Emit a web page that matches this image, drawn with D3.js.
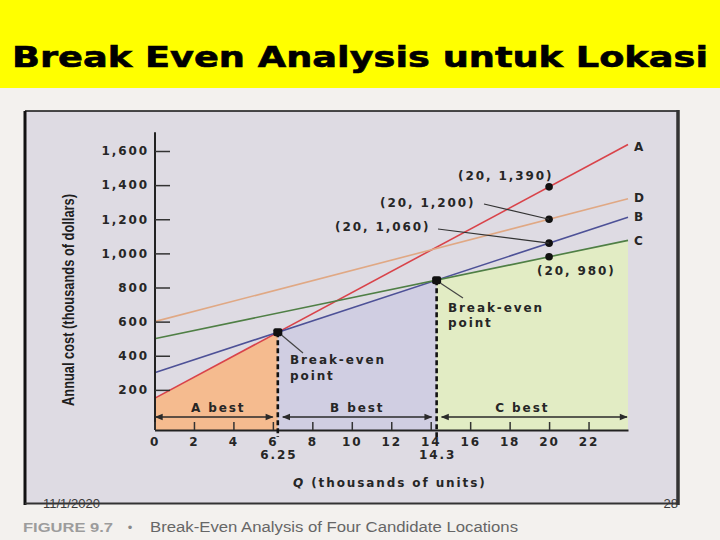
<!DOCTYPE html>
<html>
<head>
<meta charset="utf-8">
<script src="https://cdn.jsdelivr.net/npm/d3@7"></script>
<style>
  html, body { margin: 0; padding: 0; background: #f3f1ee; }
  svg { display: block; }
  .lbl { font-family: "DejaVu Sans", sans-serif; font-weight: bold; font-size: 12px; fill: #262626; letter-spacing: 1.9px; }
</style>
</head>
<body>
<svg id="chart" width="720" height="540"></svg>
<script>
// ---- data ----
const locations = ["A", "B", "C", "D"];
const costAtQ0 = [150, 300, 500, 600];        // annual cost at Q = 0 (thousands $)
const costAtQ24 = [1638, 1212, 1076, 1320];   // annual cost at Q = 24
const lineQ = [0, 24];
const pointQ = 20;
const costAtQ20 = [1390, 1060, 980, 1200];
const pointLabels = ["(20, 1,390)", "(20, 1,060)", "(20, 980)", "(20, 1,200)"];
const breakEvenQ = [6.25, 14.3];
const breakEvenCost = [537.5, 843];
const breakEvenLabels = ["6.25", "14.3"];
const bestLabels = ["A best", "B best", "C best"];
const yTicks = [200, 400, 600, 800, 1000, 1200, 1400, 1600];
const xTicks = [0, 2, 4, 6, 8, 10, 12, 14, 16, 18, 20, 22];

const lineColors = { A: "#d9434a", B: "#4d5197", C: "#4f7f45", D: "#e0a884" };

const svg = d3.select("#chart");

// background pieces
svg.append("rect").attr("x", 0).attr("y", 0).attr("width", 720).attr("height", 540).attr("fill", "#f3f1ee");
svg.append("rect").attr("x", 0).attr("y", 0).attr("width", 720).attr("height", 88).attr("fill", "#ffff00");
svg.append("text")
  .attr("x", 12).attr("y", 67)
  .attr("textLength", 696).attr("lengthAdjust", "spacingAndGlyphs")
  .style("font-family", "'DejaVu Sans', sans-serif").style("font-weight", "bold").style("font-size", "28px")
  .attr("fill", "#000").attr("stroke", "#000").attr("stroke-width", 0.6)
  .text("Break Even Analysis untuk Lokasi");

// frame
svg.append("rect").attr("x", 25).attr("y", 111).attr("width", 653).attr("height", 393).attr("fill", "#dedbe3");

const x = d3.scaleLinear().domain([0, 24]).range([154.5, 628]);
const y = d3.scaleLinear().domain([0, 1600]).range([424, 151]);
const axisBaseY = 430;

// shaded "best" regions
const area = d3.area().x(d => x(d[0])).y0(axisBaseY).y1(d => y(d[1]));
const regions = [
  { pts: [[0, costAtQ0[0]], [breakEvenQ[0], breakEvenCost[0]]], fill: "#f5bb8f" },
  { pts: [[breakEvenQ[0], breakEvenCost[0]], [breakEvenQ[1], breakEvenCost[1]]], fill: "#d0cee2" },
  { pts: [[breakEvenQ[1], breakEvenCost[1]], [24, costAtQ24[2]]], fill: "#e2ecc4" }
];
svg.selectAll("path.region").data(regions).join("path")
  .attr("class", "region").attr("d", d => area(d.pts)).attr("fill", d => d.fill);

// cost lines
const line = d3.line().x(d => x(d[0])).y(d => y(d[1]));
locations.forEach((loc, i) => {
  svg.append("path")
    .attr("d", line([[lineQ[0], costAtQ0[i]], [lineQ[1], costAtQ24[i]]]))
    .attr("fill", "none").attr("stroke", lineColors[loc]).attr("stroke-width", 1.6);
  svg.append("text").attr("class", "lbl")
    .attr("x", x(24) + 6).attr("y", y(costAtQ24[i]) + (loc === "A" ? 2 : loc === "D" ? -1 : 0))
    .attr("dy", "0.35em").text(loc);
});

// y axis
svg.append("line").attr("x1", 155).attr("x2", 155).attr("y1", axisBaseY).attr("y2", y(1710))
  .attr("stroke", "#222").attr("stroke-width", 2);
const yAxis = d3.axisLeft(y).tickValues(yTicks).tickFormat(d3.format(",")).tickSizeInner(-15).tickSizeOuter(0).tickPadding(6);
const gy = svg.append("g").attr("transform", "translate(155,0)").call(yAxis);
gy.select(".domain").remove();
gy.selectAll(".tick line").attr("stroke", "#333").attr("stroke-width", 1.5);
gy.selectAll(".tick text").attr("class", "lbl").attr("fill", "#2a2a2a");

// x axis
const xAxis = d3.axisBottom(x).tickValues(xTicks).tickSizeInner(-8).tickSizeOuter(0).tickPadding(7);
const gx = svg.append("g").attr("transform", `translate(0,${axisBaseY})`).call(xAxis);
gx.select(".domain").attr("stroke", "#222").attr("stroke-width", 2);
gx.selectAll(".tick line").attr("stroke", "#333").attr("stroke-width", 1.5);
gx.selectAll(".tick text").attr("class", "lbl").attr("fill", "#2a2a2a");

// break-even extra labels
breakEvenQ.forEach((q, i) => {
  svg.append("text").attr("class", "lbl").attr("text-anchor", "middle")
    .attr("x", x(q) + 1).attr("y", 459).text(breakEvenLabels[i]);
});

// dashed verticals at break-even points
breakEvenQ.forEach((q, i) => {
  svg.append("line").attr("x1", x(q)).attr("x2", x(q)).attr("y1", y(breakEvenCost[i])).attr("y2", 437)
    .attr("stroke", "#111").attr("stroke-width", 2.6).attr("stroke-dasharray", "5,3");
});

// double arrows for best ranges
const defs = svg.append("defs");
defs.append("marker").attr("id", "arr").attr("viewBox", "0 0 10 10").attr("refX", 9).attr("refY", 5)
  .attr("markerWidth", 7).attr("markerHeight", 5).attr("orient", "auto-start-reverse")
  .append("path").attr("d", "M0,1 L10,5 L0,9 z").attr("fill", "#2a2a2a");
const arrowY = 417;
const ranges = [[0, breakEvenQ[0]], [breakEvenQ[0], breakEvenQ[1]], [breakEvenQ[1], 24]];
ranges.forEach((r, i) => {
  const x1 = x(r[0]) + (i === 0 ? 1 : 5), x2 = x(r[1]) - (i === 2 ? 1 : 5);
  svg.append("line").attr("x1", x1).attr("x2", x2).attr("y1", arrowY).attr("y2", arrowY)
    .attr("stroke", "#2a2a2a").attr("stroke-width", 1.6)
    .attr("marker-start", "url(#arr)").attr("marker-end", "url(#arr)");
  svg.append("text").attr("class", "lbl").attr("text-anchor", "middle")
    .attr("x", (x(r[0]) + x(r[1])) / 2 + (i === 0 ? 2 : i === 2 ? -10 : 0)).attr("y", 412)
    .text(bestLabels[i]);
});

// points at Q = 20
costAtQ20.forEach(c => {
  svg.append("circle").attr("cx", x(pointQ)).attr("cy", y(c)).attr("r", 3.8).attr("fill", "#111");
});
// break-even markers
breakEvenQ.forEach((q, i) => {
  svg.append("rect").attr("x", x(q) - 4.5).attr("y", y(breakEvenCost[i]) - 4).attr("width", 9).attr("height", 8)
    .attr("rx", 2).attr("fill", "#111");
});

// annotations for Q = 20 points
svg.append("text").attr("class", "lbl").attr("x", 458).attr("y", 180).text(pointLabels[0]);
svg.append("text").attr("class", "lbl").attr("x", 380).attr("y", 207).text(pointLabels[3]);
svg.append("line").attr("x1", 484).attr("y1", 204).attr("x2", x(pointQ)).attr("y2", y(costAtQ20[3]))
  .attr("stroke", "#333").attr("stroke-width", 1.2);
svg.append("text").attr("class", "lbl").attr("x", 335).attr("y", 231).text(pointLabels[1]);
svg.append("line").attr("x1", 438).attr("y1", 229).attr("x2", x(pointQ)).attr("y2", y(costAtQ20[1]))
  .attr("stroke", "#333").attr("stroke-width", 1.2);
svg.append("text").attr("class", "lbl").attr("x", 537).attr("y", 275).text(pointLabels[2]);

// break-even point annotations
svg.append("line").attr("x1", x(breakEvenQ[0]) + 4).attr("y1", y(breakEvenCost[0]) + 3).attr("x2", 303).attr("y2", 353)
  .attr("stroke", "#444").attr("stroke-width", 1.2);
svg.append("text").attr("class", "lbl").attr("x", 290).attr("y", 364).text("Break-even");
svg.append("text").attr("class", "lbl").attr("x", 290).attr("y", 380).text("point");
svg.append("line").attr("x1", x(breakEvenQ[1]) + 4).attr("y1", y(breakEvenCost[1]) + 3).attr("x2", 463).attr("y2", 298)
  .attr("stroke", "#444").attr("stroke-width", 1.2);
svg.append("text").attr("class", "lbl").attr("x", 448).attr("y", 312).text("Break-even");
svg.append("text").attr("class", "lbl").attr("x", 448).attr("y", 327).text("point");

// axis titles
const xt = svg.append("text").attr("class", "lbl").attr("x", 293).attr("y", 487);
xt.append("tspan").style("font-style", "italic").text("Q");
xt.append("tspan").text(" (thousands of units)");
svg.append("text")
  .attr("transform", "translate(74,300) rotate(-90)")
  .attr("text-anchor", "middle")
  .attr("textLength", 212).attr("lengthAdjust", "spacingAndGlyphs")
  .style("font-family", "'Liberation Sans Narrow', 'Liberation Sans', sans-serif")
  .style("font-weight", "bold").style("font-size", "17px").attr("fill", "#1e1e1e")
  .text("Annual cost (thousands of dollars)");

// frame borders
svg.append("line").attr("x1", 25).attr("x2", 678).attr("y1", 111).attr("y2", 111).attr("stroke", "#111").attr("stroke-width", 1.5);
svg.append("line").attr("x1", 25).attr("x2", 25).attr("y1", 111).attr("y2", 505).attr("stroke", "#111").attr("stroke-width", 3);
svg.append("line").attr("x1", 678).attr("x2", 678).attr("y1", 110).attr("y2", 505).attr("stroke", "#333").attr("stroke-width", 3.5);
svg.append("line").attr("x1", 25).attr("x2", 678).attr("y1", 503.5).attr("y2", 503.5).attr("stroke", "#333").attr("stroke-width", 2);

// footer texts
svg.append("text").attr("x", 43).attr("y", 508)
  .style("font-family", "'Liberation Sans', sans-serif").style("font-size", "13px").attr("fill", "#3a3a3a").text("11/1/2020");
svg.append("text").attr("x", 678).attr("y", 508).attr("text-anchor", "end")
  .style("font-family", "'Liberation Sans', sans-serif").style("font-size", "13px").attr("fill", "#3a3a3a").text("28");
svg.append("text").attr("x", 23).attr("y", 532).attr("textLength", 90).attr("lengthAdjust", "spacingAndGlyphs")
  .style("font-family", "'Liberation Sans', sans-serif").style("font-weight", "bold").style("font-size", "13px")
  .attr("fill", "#9c9c9c").text("FIGURE 9.7");
svg.append("text").attr("x", 130).attr("y", 532).attr("text-anchor", "middle")
  .style("font-family", "'Liberation Sans', sans-serif").style("font-size", "13px").attr("fill", "#888").text("•");
svg.append("text").attr("x", 150).attr("y", 532).attr("textLength", 368).attr("lengthAdjust", "spacingAndGlyphs")
  .style("font-family", "'Liberation Sans Narrow', 'Liberation Sans', sans-serif").style("font-size", "14px")
  .attr("fill", "#666").text("Break-Even Analysis of Four Candidate Locations");
</script>
</body>
</html>
